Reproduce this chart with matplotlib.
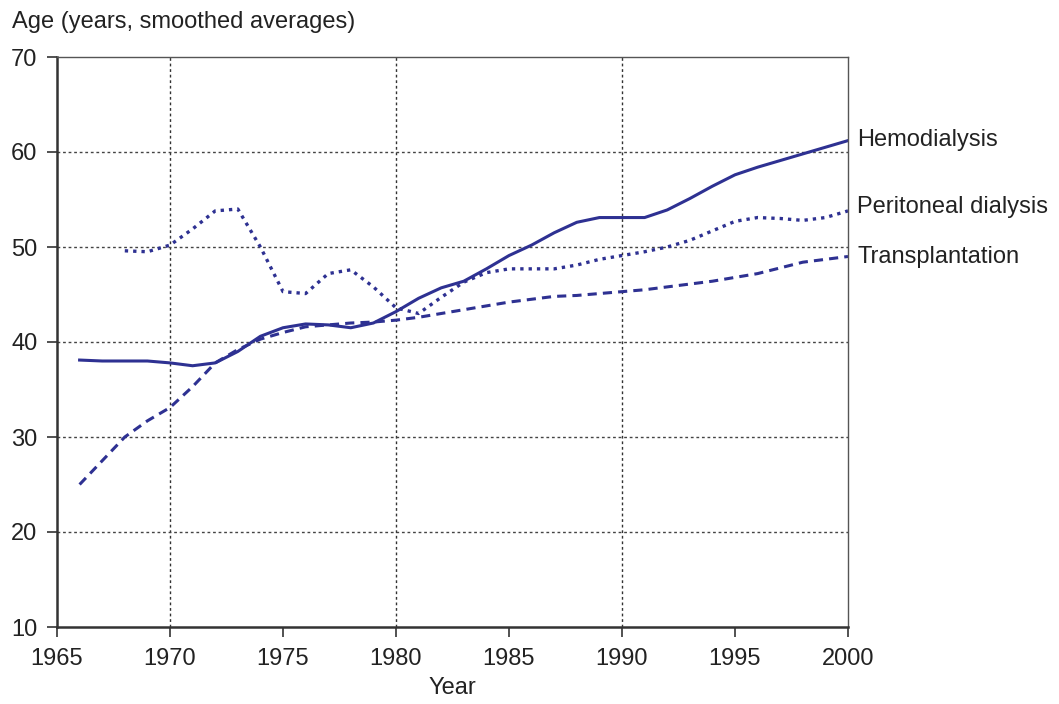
import matplotlib.pyplot as plt

plt.rcParams['font.family'] = ['Liberation Sans', 'DejaVu Sans']

# smoothed average ages by modality
hd_years = [1966, 1967, 1969, 1970, 1971, 1972, 1973, 1974, 1975, 1976, 1977, 1978,
            1979, 1980, 1981, 1982, 1983, 1984, 1985, 1986, 1987, 1988, 1989, 1990,
            1991, 1992, 1993, 1994, 1995, 1996, 1997, 1998, 1999, 2000]
hd_age = [38.1, 38.0, 38.0, 37.8, 37.5, 37.8, 39.0, 40.6, 41.5, 41.9, 41.8, 41.5,
          42.0, 43.2, 44.6, 45.7, 46.4, 47.7, 49.1, 50.2, 51.5, 52.6, 53.1, 53.1,
          53.1, 53.9, 55.1, 56.4, 57.6, 58.4, 59.1, 59.8, 60.5, 61.2]

pd_years = [1968, 1969, 1970, 1971, 1972, 1973, 1974, 1975, 1976, 1977, 1978, 1979,
            1980, 1981, 1982, 1983, 1984, 1985, 1986, 1987, 1988, 1989, 1990, 1991,
            1992, 1993, 1994, 1995, 1996, 1997, 1998, 1999, 2000]
pd_age = [49.6, 49.5, 50.2, 51.9, 53.8, 54.0, 50.0, 45.3, 45.1, 47.2, 47.6, 45.8,
          43.6, 43.0, 44.7, 46.3, 47.3, 47.7, 47.7, 47.7, 48.1, 48.7, 49.1, 49.5,
          50.0, 50.7, 51.7, 52.7, 53.1, 53.0, 52.8, 53.1, 53.8]

tx_years = [1966, 1967, 1968, 1969, 1970, 1971, 1972, 1973, 1974, 1975, 1976, 1977,
            1978, 1979, 1980, 1981, 1982, 1983, 1984, 1985, 1986, 1987, 1988, 1989,
            1990, 1991, 1992, 1993, 1994, 1995, 1996, 1997, 1998, 1999, 2000]
tx_age = [25.0, 27.5, 30.0, 31.7, 33.1, 35.3, 37.8, 39.2, 40.3, 41.0, 41.6, 41.8,
          42.0, 42.1, 42.3, 42.6, 43.0, 43.4, 43.8, 44.2, 44.5, 44.8, 44.9, 45.1,
          45.3, 45.5, 45.8, 46.1, 46.4, 46.8, 47.2, 47.8, 48.4, 48.7, 49.0]

labels = ['Hemodialysis', 'Peritoneal dialysis', 'Transplantation']
label_y = [61.3, 54.2, 49.0]

col = '#2e3192'

fig = plt.figure(figsize=(10.59, 7.04), dpi=100)
ax = fig.add_axes([57 / 1059, 1 - 627 / 704, (848 - 57) / 1059, (627 - 57) / 704])

ax.plot(hd_years, hd_age, color=col, lw=2.2, ls='-')
ax.plot(pd_years, pd_age, color=col, lw=2.4, ls=(0, (1, 1.5)))
ax.plot(tx_years, tx_age, color=col, lw=2.2, ls=(0, (3, 2)))

for lab, y in zip(labels, label_y):
    ax.text(2000.4, y, lab, fontsize=17, color='#222222', va='center', ha='left')

ax.set_xlim(1965, 2000)
ax.set_ylim(10, 70)
ax.set_xticks(range(1965, 2001, 5))
ax.set_yticks(range(10, 71, 10))
ax.tick_params(labelsize=17, direction='out', length=7, width=1.2, colors='#333333',
               labelcolor='#222222')
ax.tick_params(axis='x', pad=8)
ax.tick_params(axis='y', pad=7)

for x in [1970, 1980, 1990]:
    ax.axvline(x, color='#333333', lw=1, ls=(0, (2, 2)), zorder=0)
for y in range(20, 70, 10):
    ax.axhline(y, color='#444444', lw=1, ls=(0, (2, 2)), zorder=0)

for s in ['left', 'bottom']:
    ax.spines[s].set_color('#333333')
    ax.spines[s].set_linewidth(1.8)
for s in ['top', 'right']:
    ax.spines[s].set_color('#555555')
    ax.spines[s].set_linewidth(1.0)

ax.set_xlabel('Year', fontsize=17, color='#222222', labelpad=5)
fig.text(12 / 1059, 1 - 22 / 704, 'Age (years, smoothed averages)', fontsize=17,
         color='#222222', va='center', ha='left')

fig.savefig('out.png', dpi=100)
